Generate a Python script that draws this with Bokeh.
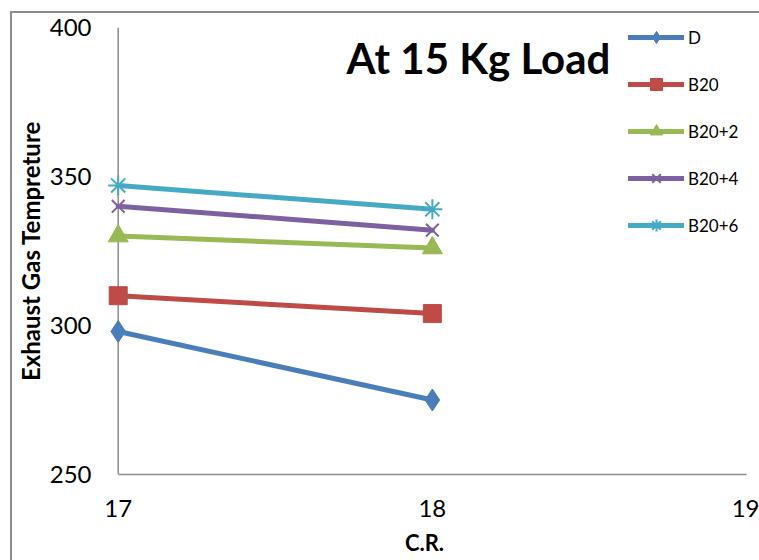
from bokeh.plotting import figure
from bokeh.models import Range1d, FixedTicker, Legend, LegendItem, Label, Span
from bokeh.embed import file_html
from bokeh.resources import INLINE

# Compression ratio (x) and exhaust gas temperature per fuel blend
cr = [17, 18]
d_vals = [298, 275]
b20_vals = [310, 304]
b20_2_vals = [330, 326]
b20_4_vals = [340, 332]
b20_6_vals = [347, 339]

x_ticks = [17, 18, 19]
y_ticks = [250, 300, 350, 400]

FONT = "Lato"
AXIS_GRAY = "#8c8c8c"

# A small pad left of x=17 keeps the first markers from being clipped;
# the vertical axis line is drawn at x=17 as a span.
p = figure(width=749, height=549, output_backend="svg", toolbar_location=None,
           x_range=Range1d(16.95, 19), y_range=Range1d(250, 400),
           min_border_left=90, min_border_right=15,
           min_border_top=14, min_border_bottom=88,
           margin=(11, 0, 0, 10),
           styles={"border-left": f"2px solid {AXIS_GRAY}",
                   "border-top": f"2px solid {AXIS_GRAY}"})
p.outline_line_color = None
p.grid.grid_line_color = None
p.background_fill_color = "white"
p.border_fill_color = "white"

for ax in (p.xaxis[0], p.yaxis[0]):
    ax.axis_line_color = AXIS_GRAY
    ax.axis_line_width = 1.5
    ax.major_tick_line_color = None
    ax.minor_tick_line_color = None
    ax.major_label_text_font = FONT
    ax.major_label_text_font_size = "24px"
    ax.major_label_text_color = "black"
    ax.axis_label_text_font = FONT
    ax.axis_label_text_font_style = "bold"
    ax.axis_label_text_color = "black"

p.xaxis.ticker = FixedTicker(ticks=x_ticks)
p.yaxis.ticker = FixedTicker(ticks=y_ticks)
p.xaxis.bounds = (17, 19)
p.yaxis.axis_line_color = None
p.xaxis.major_label_standoff = 19
p.yaxis.major_label_standoff = 5
p.xaxis.axis_label = "C.R."
p.xaxis.axis_label_text_font_size = "22px"
p.xaxis.axis_label_standoff = 9
p.yaxis.axis_label = "Exhaust Gas Tempreture"
p.yaxis.axis_label_text_font_size = "24px"
p.yaxis.axis_label_standoff = 2

y_axis_line = Span(location=x_ticks[0], dimension="height",
                   line_color=AXIS_GRAY, line_width=1.5, level="underlay")
p.add_layout(y_axis_line)

LW = 5
series = [
    ("D", d_vals, "#4a7ebb", "diamond", 22),
    ("B20", b20_vals, "#be4b48", "square", 18),
    ("B20+2", b20_2_vals, "#98b954", "triangle", 20),
    ("B20+4", b20_4_vals, "#7d60a0", "x", 18),
    ("B20+6", b20_6_vals, "#46aac5", "asterisk", 20),
]

items = []
for name, vals, color, marker, size in series:
    ln = p.line(cr, vals, line_color=color, line_width=LW, line_cap="round")
    mk = p.scatter(cr, vals, marker=marker, size=size, fill_color=color,
                   line_color=color, line_width=2 if marker in ("x", "asterisk") else 1)
    items.append(LegendItem(label=name, renderers=[ln, mk]))

legend = Legend(items=items, location=(526, 234), orientation="vertical",
                glyph_width=56, glyph_height=30, label_height=30, spacing=17,
                label_standoff=4, padding=0, margin=0,
                border_line_color=None, background_fill_alpha=0,
                label_text_font=FONT, label_text_font_size="17px",
                label_text_color="black")
p.add_layout(legend, "center")

title = Label(x=376, y=417, x_units="screen", y_units="screen",
              text="At 15 Kg Load", text_font=FONT, text_font_style="bold",
              text_font_size="42px", text_align="center", text_baseline="middle",
              text_color="black")
p.add_layout(title)

with open("out.html", "w") as f:
    f.write(file_html(p, INLINE))
